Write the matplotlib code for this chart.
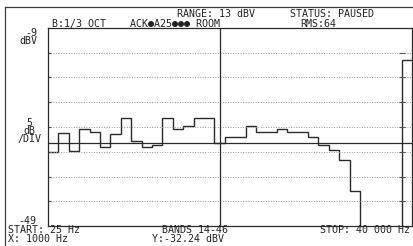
import numpy as np
import matplotlib
matplotlib.use("Agg")
import matplotlib.pyplot as plt
from matplotlib.lines import Line2D

# ---- data ----
band_numbers = list(range(14, 47))          # 1/3-octave bands 14..46 (25 Hz .. 40 kHz)
band_levels = [-34.0, -30.3, -33.8, -29.4, -30.1, -33.0, -30.4, -27.2, -31.8, -33.0,
               -32.6, -27.2, -29.4, -28.7, -27.2, -27.2, -32.24, -31.0, -31.0, -28.8,
               -30.1, -30.1, -29.5, -30.1, -30.1, -31.0, -32.6, -33.6, -35.7, -41.9,
               -60.0, -60.0, -60.0]
overall_level = -15.5
gap_level = -60.0
y_top, y_bottom = -9, -49
grid_levels = [-14, -19, -24, -29, -34, -39, -44]
cursor_band = 30
cursor_level = -32.24

W, H = 413, 246
fig = plt.figure(figsize=(W / 100, H / 100), dpi=100)
fig.patch.set_facecolor("white")

def fx(px):
    return px / W

def fy(py):
    return 1 - py / H

L, T, R, B = 48, 28, 412, 226
ax = fig.add_axes([fx(L), fy(B), (R - L) / W, (B - T) / H])
ax.set_facecolor("white")

levels = band_levels + [gap_level, overall_level]
n = len(levels)
edges = np.arange(n + 1)
ax.stairs(levels, edges, baseline=None, color="#2a2a2a", lw=1.0)

ax.set_xlim(0, n)
ax.set_ylim(y_bottom, y_top)

for g in grid_levels:
    ax.axhline(g, color="#9a9a9a", lw=0.7, linestyle=(0, (1, 1.6)))
ax.plot([n - 1] * len(grid_levels), grid_levels, linestyle="none", marker="_",
        markersize=4, color="#555555", mew=0.8)
ax.plot([0] * len(grid_levels), grid_levels, linestyle="none", marker="_",
        markersize=4, color="#555555", mew=0.8)

cursor_slot = band_numbers.index(cursor_band) + 0.5
ax.axvline(cursor_slot, color="#2a2a2a", lw=0.9)
ax.axhline(cursor_level, color="#2a2a2a", lw=0.9)

for s in ax.spines.values():
    s.set_color("#2a2a2a")
    s.set_linewidth(0.9)
ax.set_xticks([])
ax.set_yticks([])

# outer frame
fig.add_artist(Line2D([fx(5), fx(5)], [fy(7), fy(246)], color="#3a3a3a", lw=0.9))
fig.add_artist(Line2D([fx(5), fx(413)], [fy(7), fy(7)], color="#3a3a3a", lw=0.9))

font = dict(family="DejaVu Sans Mono", fontsize=7.2, color="#222222", va="center")

def t(px, py, s, ha="left", **kw):
    opts = dict(font)
    opts.update(kw)
    fig.text(fx(px), fy(py), s, ha=ha, **opts)

t(177, 14, "RANGE: 13 dBV")
t(290, 14, "STATUS: PAUSED")
t(52, 24, "B:1/3 OCT")
t(130, 24, "ACK●A25●●● ROOM")
t(300, 24, "RMS:64")
t(37, 37, "-9\ndBV", ha="right", multialignment="right", linespacing=0.8)
t(29, 131, "5\ndB\n/DIV", ha="center", multialignment="center", linespacing=0.8)
t(36, 221, "-49", ha="right")
t(8, 230, "START: 25 Hz")
t(8, 239, "X: 1000 Hz")
t(162, 230, "BANDS 14-46")
t(152, 239, "Y:-32.24 dBV")
t(410, 230, "STOP: 40 000 Hz", ha="right")

fig.savefig("out.png", dpi=100, facecolor="white")
